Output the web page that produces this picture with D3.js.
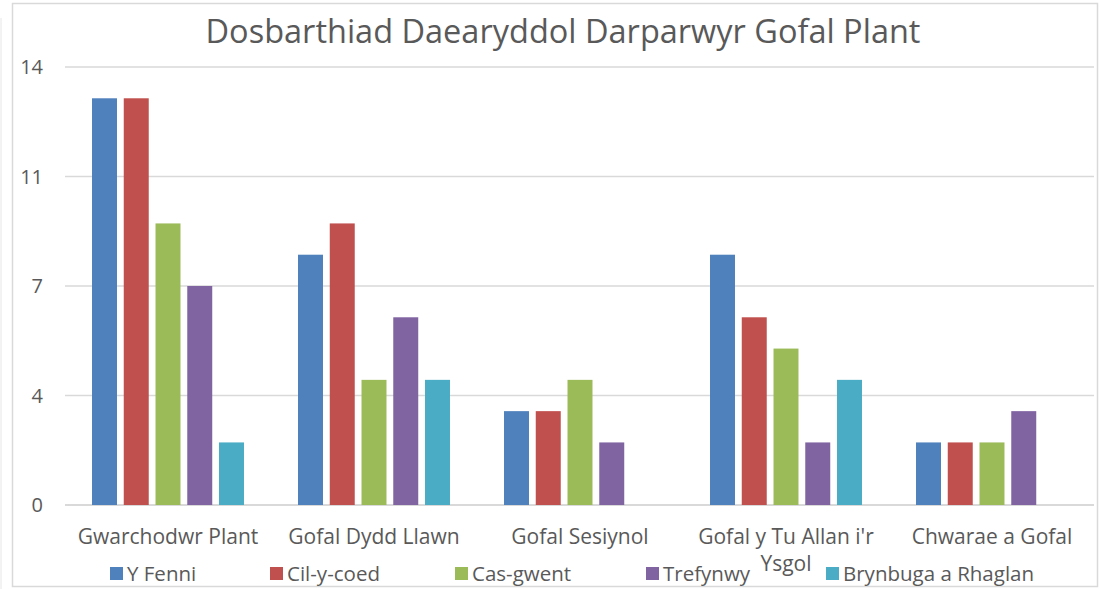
<!DOCTYPE html>
<meta charset="utf-8">
<head>
    <title>Dosbarthiad Daearyddol Darparwyr Gofal Plant</title>
    <script type="text/javascript" src="https://cdn.jsdelivr.net/npm/d3@7"></script>
    <style>
        body { margin: 0; background: #fff; }
        text { font-family: "Open Sans", sans-serif; fill: #595959; }
    </style>
</head>
<body>
<script>
    // data
    var categories = ["Gwarchodwr Plant", "Gofal Dydd Llawn", "Gofal Sesiynol", "Gofal y Tu Allan i'r Ysgol", "Chwarae a Gofal"];
    var seriesNames = ["Y Fenni", "Cil-y-coed", "Cas-gwent", "Trefynwy", "Brynbuga a Rhaglan"];
    var yFenni   = [13, 8, 3, 8, 2];
    var cilYCoed = [13, 9, 3, 6, 2];
    var casGwent = [9, 4, 4, 5, 2];
    var trefynwy = [7, 6, 2, 2, 3];
    var brynbuga = [2, 4, 0, 4, 0];
    var seriesValues = [yFenni, cilYCoed, casGwent, trefynwy, brynbuga];
    var yTicks = [0, 3.5, 7, 10.5, 14];
    var colors = ["#4F81BD", "#C0504D", "#9BBB59", "#8064A2", "#4BACC6"];

    var width = 1100, height = 589;
    var svg = d3.select("body").append("svg")
        .attr("width", width)
        .attr("height", height);

    // chart border
    svg.append("rect")
        .attr("x", 12.5).attr("y", 3.5)
        .attr("width", 1085).attr("height", 583)
        .attr("fill", "none")
        .attr("stroke", "#d9d9d9")
        .attr("stroke-width", 1.5);
    svg.append("line")
        .attr("x1", 1).attr("x2", 1).attr("y1", 18).attr("y2", 589)
        .attr("stroke", "#e6e6e6");

    var x = d3.scaleBand().domain(categories).range([65, 1095]);
    var xSub = d3.scaleBand().domain(seriesNames)
        .range([27, x.bandwidth() - 27])
        .paddingInner(0.213);
    var y = d3.scaleLinear().domain([0, 14]).range([505, 67]);

    // gridlines
    svg.append("g").selectAll("line")
        .data(yTicks)
        .enter().append("line")
        .attr("x1", 65).attr("x2", 1094)
        .attr("y1", d => y(d)).attr("y2", d => y(d))
        .attr("stroke", "#d9d9d9")
        .attr("stroke-width", d => d == 0 ? 2 : 1.5);

    // y labels (Excel shows 3.5 and 10.5 rounded)
    svg.append("g").selectAll("text")
        .data(yTicks)
        .enter().append("text")
        .attr("x", 43).attr("y", d => y(d))
        .attr("dy", "0.35em")
        .attr("text-anchor", "end")
        .style("font-size", "20px")
        .text(d => Math.round(d));

    // bars
    var groups = svg.append("g").selectAll("g")
        .data(categories)
        .enter().append("g")
        .attr("transform", d => "translate(" + x(d) + ",0)");

    groups.selectAll("rect")
        .data((c, i) => seriesNames.map((s, j) => ({s: s, v: seriesValues[j][i], j: j})))
        .enter().append("rect")
        .filter(d => d.v > 0)
        .attr("x", d => xSub(d.s))
        .attr("width", xSub.bandwidth())
        .attr("y", d => y(d.v))
        .attr("height", d => y(0) - y(d.v))
        .attr("fill", d => colors[d.j]);

    // category labels (wrap the long one)
    svg.append("g").selectAll("text")
        .data(categories)
        .enter().append("text")
        .attr("x", d => x(d) + x.bandwidth() / 2)
        .attr("y", 544)
        .attr("text-anchor", "middle")
        .style("font-size", "21px")
        .each(function(d) {
            var t = d3.select(this);
            if (d == "Gofal y Tu Allan i'r Ysgol") {
                t.append("tspan").text("Gofal y Tu Allan i'r");
                t.append("tspan")
                    .attr("x", x(d) + x.bandwidth() / 2)
                    .attr("y", 571)
                    .text("Ysgol");
            } else {
                t.text(d);
            }
        });

    // title
    svg.append("text")
        .attr("x", 563).attr("y", 43)
        .attr("text-anchor", "middle")
        .style("font-size", "32.5px")
        .text("Dosbarthiad Daearyddol Darparwyr Gofal Plant");

    // legend
    var legendX = [110, 270, 455, 646, 826];
    var legend = svg.append("g").selectAll("g")
        .data(seriesNames)
        .enter().append("g")
        .attr("transform", (d, i) => "translate(" + legendX[i] + ",567)");
    legend.append("rect")
        .attr("width", 13).attr("height", 13)
        .attr("fill", (d, i) => colors[i]);
    legend.append("text")
        .attr("x", 17).attr("y", 14)
        .style("font-size", "20.5px")
        .text(d => d);
</script>
</body>
</html>
